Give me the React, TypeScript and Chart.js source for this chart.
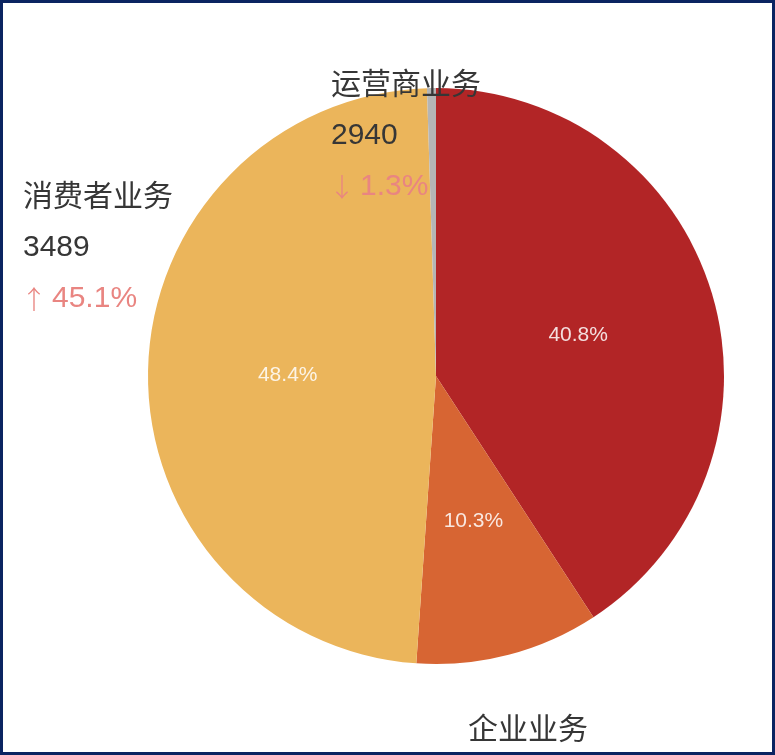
import React, { useEffect, useRef } from "react";
import { Chart, registerables } from "chart.js";

Chart.register(...registerables);

const categories = ["运营商业务", "企业业务", "消费者业务", "其他"];
const values = [2940, 742, 3489, 36];
const valueLabels = ["2940", "", "3489", ""];
const changeArrows = ["↓", "", "↑", ""];
const changeLabels = ["1.3%", "", "45.1%", ""];
const colors = ["#b22526", "#d76533", "#ebb55b", "#b5b5b5"];

// label block layout relative to pie center (px)
const outerLabelLayout = [
  { index: 0, dx: -105, dy: -290 },
  { index: 2, dx: -413, dy: -178 },
  { index: 1, dx: 32, dy: 355 },
];

const FONT = '"Liberation Sans", "Noto Sans CJK SC", sans-serif';
const CJK = '"Noto Sans CJK SC", sans-serif';

const labelPlugin = {
  id: "pieLabels",
  afterDatasetsDraw(chart: any) {
    const ctx = chart.ctx as CanvasRenderingContext2D;
    const meta = chart.getDatasetMeta(0);
    const arcs = meta.data as any[];
    if (!arcs.length) return;
    const cx = arcs[0].x;
    const cy = arcs[0].y;
    const r = arcs[0].outerRadius;
    const total = values.reduce((a, b) => a + b, 0);
    ctx.save();
    // inside percentage labels
    ctx.font = `21px ${FONT}`;
    ctx.fillStyle = "rgba(255,255,255,0.85)";
    ctx.textAlign = "center";
    ctx.textBaseline = "middle";
    arcs.forEach((arc, i) => {
      const pct = (values[i] / total) * 100;
      if (pct < 1) return;
      const mid = (arc.startAngle + arc.endAngle) / 2;
      const x = cx + Math.cos(mid) * r * 0.515;
      const y = cy + Math.sin(mid) * r * 0.515 + 2;
      ctx.fillText(pct.toFixed(1) + "%", x, y);
    });
    // outer labels
    ctx.textAlign = "left";
    outerLabelLayout.forEach(({ index, dx, dy }) => {
      const x = cx + dx;
      let y = cy + dy;
      ctx.font = `30px ${FONT}`;
      ctx.fillStyle = "#363636";
      ctx.fillText(categories[index], x, y);
      if (valueLabels[index]) {
        y += 50;
        ctx.fillText(valueLabels[index], x, y);
      }
      if (changeLabels[index]) {
        y += 51;
        ctx.fillStyle = "#e98581";
        ctx.font = `300 26px ${CJK}`;
        ctx.fillText(changeArrows[index], x - 2, y);
        ctx.font = `30px ${FONT}`;
        ctx.fillText(changeLabels[index], x + 29, y);
      }
    });
    ctx.restore();
  },
};

export default function App() {
  const ref = useRef<HTMLCanvasElement>(null);
  useEffect(() => {
    if (!ref.current) return;
    const chart = new Chart(ref.current, {
      type: "pie",
      data: {
        labels: categories,
        datasets: [
          {
            data: values,
            backgroundColor: colors,
            borderWidth: 0,
          },
        ],
      },
      options: {
        responsive: false,
        animation: false,
        layout: { padding: { left: 145, right: 48, top: 85, bottom: 88 } },
        plugins: {
          legend: { display: false },
          tooltip: { enabled: false },
        },
      },
      plugins: [labelPlugin],
    });
    return () => chart.destroy();
  }, []);
  return (
    <div
      style={{
        position: "fixed",
        left: 0,
        top: 0,
        width: 775,
        height: 755,
        boxSizing: "border-box",
        border: "3px solid #0b2461",
        background: "#fff",
        overflow: "hidden",
      }}
    >
      <canvas ref={ref} width={769} height={749} style={{ display: "block" }} />
    </div>
  );
}
